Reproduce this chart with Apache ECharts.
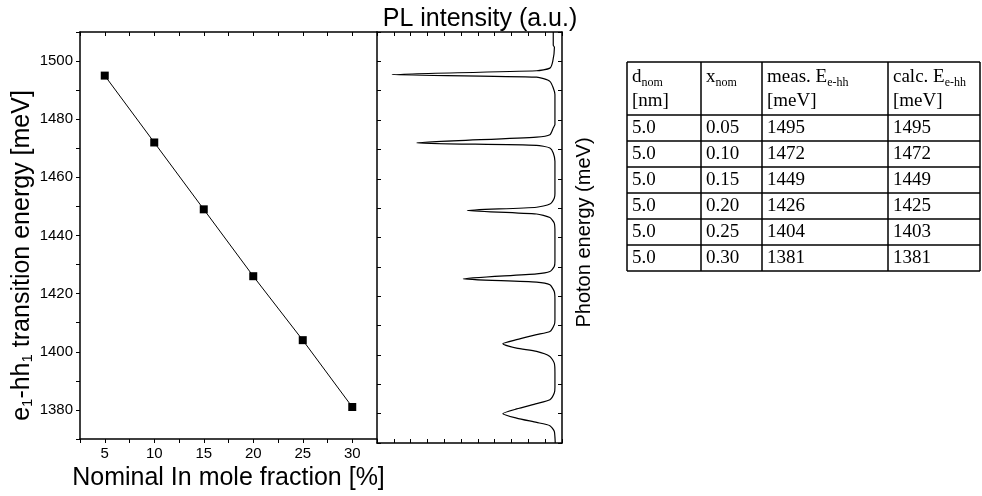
<!DOCTYPE html>
<html>
<head>
<meta charset="utf-8">
<script src="https://cdn.jsdelivr.net/npm/echarts@6/dist/echarts.min.js"></script>
<style>
html, body { margin: 0; padding: 0; background: #fff; }
#main { width: 982px; height: 496px; }
</style>
</head>
<body>
<div id="main"></div>
<script>
// nominal In mole fraction [%] and measured e1-hh1 energy [meV]
const fraction = [5, 10, 15, 20, 25, 30]
const energy = [1495, 1472, 1449, 1426, 1404, 1381]

// PL spectrum (photon energy meV, intensity a.u.)
const plEnergy = [
  1510, 1505.5, 1504.8, 1500, 1497.7, 1496.8, 1495.5, 1494.6, 1493.2, 1488.7,
  1478.5, 1477.3, 1475.0, 1474.2, 1472.2, 1471.4, 1470.5, 1468.8, 1466,
  1455, 1453.4, 1451.4, 1450.3, 1449.2, 1448.0, 1446.8, 1444.9, 1442,
  1432, 1430.1, 1428.4, 1427.6, 1425.9, 1424.8, 1423.9, 1421.6, 1419,
  1412, 1410.3, 1408.0, 1406.9, 1405.2, 1403.8, 1402.3, 1401.2, 1399.5, 1397.2, 1394,
  1389, 1387.0, 1384.7, 1383.4, 1381.6, 1380.0, 1378.5, 1377.0, 1375.9, 1374.0, 1372, 1370
]
const plIntensity = [
  0.052, 0.052, 0.045, 0.055, 0.072, 0.151, 1.012, 0.151, 0.072, 0.042,
  0.042, 0.052, 0.072, 0.151, 0.864, 0.151, 0.072, 0.052, 0.042,
  0.042, 0.046, 0.072, 0.151, 0.563, 0.151, 0.072, 0.046, 0.042,
  0.042, 0.046, 0.072, 0.151, 0.587, 0.151, 0.072, 0.046, 0.042,
  0.042, 0.046, 0.072, 0.151, 0.27, 0.352, 0.27, 0.151, 0.072, 0.046, 0.042,
  0.042, 0.046, 0.072, 0.151, 0.27, 0.352, 0.27, 0.151, 0.072, 0.046, 0.042, 0.04
]

// table
const dNom = ['5.0', '5.0', '5.0', '5.0', '5.0', '5.0']
const xNom = ['0.05', '0.10', '0.15', '0.20', '0.25', '0.30']
const measE = ['1495', '1472', '1449', '1426', '1404', '1381']
const calcE = ['1495', '1472', '1449', '1425', '1403', '1381']

const chart = echarts.init(document.getElementById('main'))

const sans = 'Liberation Sans, Arial, sans-serif'
const serif = 'Liberation Serif, Times New Roman, serif'
const axisLine = { onZero: false, lineStyle: { color: '#000', width: 1.5 } }
const tickIn = { inside: true, length: 4, lineStyle: { color: '#000' } }
const tickOut = { inside: false, length: 4, lineStyle: { color: '#000' } }

// table geometry
const colX = [627, 701, 762, 888, 980]
const tableTop = 62
const headBottom = 115
const rowH = 26
const tableBottom = headBottom + rowH * dNom.length

function buildTable () {
  const g = []
  const line = (x1, y1, x2, y2) => ({
    type: 'line',
    shape: { x1: x1, y1: y1, x2: x2, y2: y2 },
    style: { stroke: '#000', lineWidth: 1.5 }
  })
  colX.forEach(x => g.push(line(x, tableTop, x, tableBottom)))
  g.push(line(colX[0], tableTop, colX[4], tableTop))
  for (let i = 0; i <= dNom.length; i++) {
    const y = headBottom + i * rowH
    g.push(line(colX[0], y, colX[4], y))
  }
  const rich = {
    m: { fontFamily: serif, fontSize: 19, fill: '#000' },
    s: { fontFamily: serif, fontSize: 12, fill: '#000', padding: [11, 0, 0, 0] }
  }
  const text = (x, y, str) => ({
    type: 'text',
    x: x + 5,
    y: y,
    style: { text: str, rich: rich, fill: '#000', verticalAlign: 'middle' }
  })
  g.push(text(colX[0], 77, '{m|d}{s|nom}'))
  g.push(text(colX[0], 101, '{m|[nm]}'))
  g.push(text(colX[1], 77, '{m|x}{s|nom}'))
  g.push(text(colX[2], 77, '{m|meas. E}{s|e-hh}'))
  g.push(text(colX[2], 101, '{m|[meV]}'))
  g.push(text(colX[3], 77, '{m|calc. E}{s|e-hh}'))
  g.push(text(colX[3], 101, '{m|[meV]}'))
  const cols = [dNom, xNom, measE, calcE]
  cols.forEach((col, c) => {
    col.forEach((v, r) => {
      g.push(text(colX[c], headBottom + r * rowH + rowH / 2, '{m|' + v + '}'))
    })
  })
  return g
}

const option = {
  animation: false,
  backgroundColor: '#fff',
  title: {
    text: 'PL intensity (a.u.)',
    left: 475,
    top: 2,
    textAlign: 'center',
    textStyle: { fontFamily: sans, fontSize: 25, fontWeight: 'normal', color: '#000' }
  },
  grid: [
    { left: 80, top: 32, width: 297, height: 411 },
    { left: 377, top: 32, width: 185, height: 411 }
  ],
  xAxis: [
    {
      gridIndex: 0, type: 'value', min: 2.5, max: 32.5, interval: 2.5,
      name: 'Nominal In mole fraction [%]', nameLocation: 'middle', nameGap: 27,
      nameTextStyle: { fontFamily: sans, fontSize: 25, color: '#000' },
      axisLine: axisLine,
      axisTick: tickOut,
      axisLabel: {
        margin: 7, color: '#000', fontFamily: sans, fontSize: 15,
        formatter: v => (v % 5 === 0 ? String(v) : '')
      },
      splitLine: { show: false }
    },
    {
      gridIndex: 0, type: 'value', position: 'top', min: 2.5, max: 32.5, interval: 2.5,
      axisLine: axisLine,
      axisTick: tickIn,
      axisLabel: { show: false },
      splitLine: { show: false }
    },
    {
      gridIndex: 1, type: 'value', min: 0, max: 1.1, interval: 0.1, inverse: true,
      axisLine: axisLine,
      axisTick: tickIn,
      axisLabel: { show: false },
      splitLine: { show: false }
    },
    {
      gridIndex: 1, type: 'value', position: 'top', min: 0, max: 1.1, interval: 0.1, inverse: true,
      axisLine: axisLine,
      axisTick: tickIn,
      axisLabel: { show: false },
      splitLine: { show: false }
    }
  ],
  yAxis: [
    {
      gridIndex: 0, type: 'value', min: 1370, max: 1510, interval: 10,
      name: '{a|e}{b|1}{a|-hh}{b|1}{a| transition energy [meV]}',
      nameLocation: 'middle', nameGap: 41,
      nameTextStyle: {
        padding: [0, 40, 0, 0],
        rich: {
          a: { fontFamily: sans, fontSize: 25, color: '#000' },
          b: { fontFamily: sans, fontSize: 15, color: '#000', padding: [13, 0, 0, 0] }
        }
      },
      axisLine: axisLine,
      axisTick: tickOut,
      axisLabel: {
        margin: 7, color: '#000', fontFamily: sans, fontSize: 15,
        formatter: v => (v % 20 === 0 ? String(v) : '')
      },
      splitLine: { show: false }
    },
    {
      gridIndex: 1, type: 'value', min: 1370, max: 1510, interval: 10,
      axisLine: axisLine,
      axisTick: tickIn,
      axisLabel: { show: false },
      splitLine: { show: false }
    },
    {
      gridIndex: 1, type: 'value', position: 'right', min: 1370, max: 1510, interval: 10,
      name: 'Photon energy (meV)', nameLocation: 'middle', nameGap: 12, nameRotate: 90,
      nameTextStyle: { fontFamily: sans, fontSize: 20, color: '#000', padding: [0, 0, 0, 10] },
      axisLine: axisLine,
      axisTick: tickIn,
      axisLabel: { show: false },
      splitLine: { show: false }
    }
  ],
  series: [
    {
      type: 'line',
      xAxisIndex: 0,
      yAxisIndex: 0,
      data: fraction.map((x, i) => [x, energy[i]]),
      symbol: 'rect',
      symbolSize: 8,
      itemStyle: { color: '#000' },
      lineStyle: { color: '#000', width: 1 }
    },
    {
      type: 'line',
      xAxisIndex: 2,
      yAxisIndex: 1,
      data: plEnergy.map((e, i) => [plIntensity[i], e]),
      symbol: 'none',
      smooth: 0.2,
      lineStyle: { color: '#000', width: 1.2 }
    }
  ],
  graphic: buildTable()
}

chart.setOption(option)
</script>
</body>
</html>
